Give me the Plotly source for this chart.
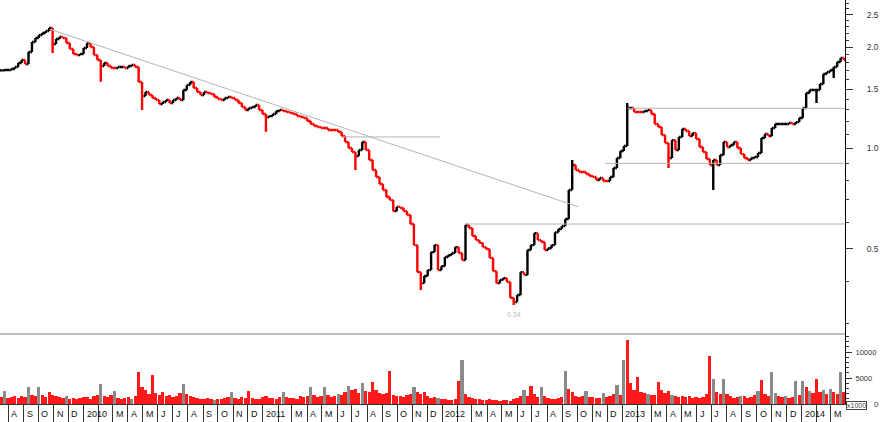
import math
import plotly.graph_objects as go
import pandas as pd

# ---------------- data ----------------
week_dates = pd.date_range("2009-07-17", periods=246, freq="7D")

close = [
    1.705, 1.709, 1.709, 1.721, 1.745, 1.794, 1.831, 1.782, 1.934, 2.072,
    2.130, 2.175, 2.204, 2.235, 2.281, 2.044, 2.115, 2.145, 2.130, 2.058,
    1.975, 1.908, 1.895, 1.908, 1.989, 2.058, 2.002, 1.895, 1.831, 1.757,
    1.794, 1.757, 1.733, 1.733, 1.745, 1.745, 1.733, 1.757, 1.769, 1.745,
    1.574, 1.430, 1.470, 1.439, 1.410, 1.391, 1.353, 1.372, 1.391, 1.362,
    1.391, 1.410, 1.391, 1.490, 1.542, 1.574, 1.511, 1.470, 1.439, 1.470,
    1.460, 1.449, 1.420, 1.400, 1.391, 1.410, 1.420, 1.410, 1.391, 1.362,
    1.325, 1.299, 1.316, 1.325, 1.344, 1.299, 1.263, 1.237, 1.245, 1.263,
    1.290, 1.299, 1.290, 1.281, 1.272, 1.263, 1.245, 1.237, 1.229, 1.204,
    1.179, 1.163, 1.155, 1.147, 1.147, 1.132, 1.132, 1.132, 1.116, 1.086,
    1.042, 1.000, 0.973, 0.946, 0.986, 1.042, 0.986, 0.921, 0.860, 0.819,
    0.781, 0.749, 0.714, 0.699, 0.648, 0.667, 0.662, 0.648, 0.631, 0.593,
    0.513, 0.426, 0.395, 0.415, 0.432, 0.489, 0.513, 0.432, 0.444, 0.473,
    0.479, 0.486, 0.506, 0.486, 0.463, 0.589, 0.577, 0.546, 0.531, 0.521,
    0.506, 0.499, 0.470, 0.429, 0.395, 0.404, 0.409, 0.398, 0.357, 0.347,
    0.364, 0.426, 0.418, 0.496, 0.513, 0.557, 0.531, 0.524, 0.496, 0.502,
    0.513, 0.560, 0.573, 0.585, 0.614, 0.749, 0.890, 0.860, 0.848, 0.848,
    0.836, 0.825, 0.819, 0.803, 0.814, 0.797, 0.797, 0.819, 0.872, 0.934,
    0.980, 1.014, 1.316, 1.316, 1.281, 1.281, 1.281, 1.290, 1.299, 1.263,
    1.179, 1.155, 1.094, 1.035, 0.934, 1.056, 0.986, 1.079, 1.140, 1.124,
    1.086, 1.108, 1.064, 1.007, 0.973, 0.927, 0.890, 0.921, 0.890, 0.953,
    1.042, 1.007, 1.021, 1.042, 1.000, 0.959, 0.934, 0.921, 0.934, 0.940,
    0.966, 1.071, 1.101, 1.086, 1.147, 1.179, 1.179, 1.179, 1.179, 1.187,
    1.179, 1.195, 1.229, 1.316, 1.460, 1.490, 1.490, 1.490, 1.553, 1.663,
    1.686, 1.709, 1.745, 1.806, 1.857, 1.831,
]

# notable wicks (week index -> price)
wick_low = {15: 1.920, 29: 1.577, 41: 1.299, 77: 1.119, 103: 0.860,
            122: 0.377, 149: 0.340, 194: 0.872, 207: 0.749, 237: 1.362,
            242: 1.618}
wick_high = {166: 0.921, 182: 1.362}

volume_k = [
    1400, 2500, 1200, 1300, 1500, 1100, 1600, 1400, 3300, 1800,
    1500, 3200, 1700, 1400, 2300, 1800, 1500, 1300, 1200, 1600,
    1000, 1200, 900, 1100, 1400, 1300, 1000, 1500, 1700, 3800,
    1600, 1400, 1800, 2500, 1200, 1000, 1100, 1300, 900, 1500,
    6100, 3200, 2600, 2000, 5600, 2100, 1800, 2400, 1500, 1700,
    1400, 1600, 2100, 3800, 1900, 1500, 1300, 1200, 1000, 900,
    1100, 1000, 800, 900, 1000, 1100, 1400, 2300, 1200, 1000,
    1300, 1100, 2500, 1200, 900, 1000, 1300, 1500, 1100, 1200,
    1000, 1400, 2300, 1300, 1100, 1200, 1000, 1500, 1300, 1600,
    3300, 1800, 1400, 1500, 3200, 1700, 1300, 1500, 2000, 1800,
    2400, 3500, 2600, 2800, 2200, 4000, 2500, 2300, 4300, 2600,
    2100, 1900, 2200, 6400, 1800, 1600, 1500, 1300, 1700, 2000,
    3300, 2400, 2000, 2300, 1500, 1200, 1400, 1100, 1000, 900,
    800, 700, 1000, 4500, 8500, 2000, 1400, 1200, 1000, 900,
    800, 700, 900, 700, 800, 600, 700, 800, 600, 900,
    1100, 1600, 2700, 1500, 3500, 2000, 1300, 3200, 1500, 1200,
    1000, 900, 1100, 1300, 6300, 2800, 2300, 1500, 1400, 1600,
    2500, 1300, 1400, 1200, 1100, 2200, 1300, 1500, 2000, 3600,
    1800, 8400, 12300, 4100, 2600, 5100, 2400, 2200, 1900, 1700,
    1800, 4300, 2600, 2200, 2500, 1800, 1500, 1300, 1600, 1400,
    1500, 1200, 1300, 1100, 1400, 2000, 9300, 4800, 2300, 1900,
    4800, 2000, 1500, 1200, 1300, 1500, 1600, 1200, 1400, 1800,
    2500, 4600, 2000, 1500, 6100, 2200, 1500, 1300, 1600, 1200,
    1400, 4500, 1700, 4500, 3200, 2500, 2200, 4800, 2300, 2600,
    2000, 2800, 2400, 1900, 6100, 2300,
]
# weeks whose volume bar shows grey in the reference (others red)
grey_weeks = [1, 8, 11, 19, 29, 33, 38, 53, 62, 67, 82, 90, 94, 98, 101, 105,
              120, 127, 134, 152, 157, 164, 170, 175, 179, 181, 188, 195, 207,
              210, 215, 220, 224, 225, 228, 231, 233, 235, 239, 241, 244]

# drawn trend / level lines (dates, prices)
trend_dates = ["2009-10-25", "2012-10-03"]
trend_prices = [2.261, 0.668]
level_lines = [
    ("2011-06-13", "2011-12-27", 1.079),
    ("2012-02-16", "2014-03-30", 0.593),
    ("2012-11-27", "2014-03-30", 0.900),
    ("2013-01-11", "2014-03-30", 1.314),
]
low_label_date, low_label_price, low_label_text = "2012-05-25", 0.318, "0.34"

price_ticks = [0.5, 1.0, 1.5, 2.0, 2.5]
price_ticktext = ["0.5", "1.0", "1.5", "2.0", "2.5"]
price_minor = [0.3, 0.4, 0.6, 0.7, 0.8, 0.9, 1.1, 1.2, 1.3, 1.4, 1.6, 1.7,
               1.8, 1.9, 2.1, 2.2, 2.3, 2.4, 2.6, 2.7]
vol_ticks = [0, 5000, 10000]
vol_ticktext = ["", "5000", "10000"]
vol_minor = [1000, 2000, 3000, 4000, 6000, 7000, 8000, 9000, 11000, 12000, 13000]

x_start, x_end = "2009-07-15", "2014-03-30"
month_starts = pd.date_range("2009-08-01", "2014-03-01", freq="MS")
initials = "JFMAMJJASOND"

# ---------------- derived ----------------
opens = [close[0]] + close[:-1]
high = [max(o, c) for o, c in zip(opens, close)]
low = [min(o, c) for o, c in zip(opens, close)]
for k, v in wick_low.items():
    low[k] = min(low[k], v)
for k, v in wick_high.items():
    high[k] = max(high[k], v)
grey_set = set(grey_weeks)
vol_colors = ["rgba(125,125,125,0.9)" if k in grey_set else "rgba(255,0,0,0.9)"
              for k in range(len(volume_k))]

FONT = "Liberation Sans, Arial, sans-serif"
fig = go.Figure()

for d0, d1, p in level_lines:
    fig.add_trace(go.Scatter(x=[d0, d1], y=[p, p], mode="lines",
                             line=dict(color="#b4b4b4", width=1),
                             xaxis="x", yaxis="y", hoverinfo="skip"))
fig.add_trace(go.Scatter(x=trend_dates, y=trend_prices, mode="lines",
                         line=dict(color="#b4b4b4", width=1),
                         xaxis="x", yaxis="y", hoverinfo="skip"))

fig.add_trace(go.Ohlc(x=week_dates, open=opens, high=high, low=low, close=close,
                      increasing=dict(line=dict(color="#000000", width=2.4)),
                      decreasing=dict(line=dict(color="#ff0000", width=2.4)),
                      tickwidth=0.5, xaxis="x", yaxis="y"))

fig.add_trace(go.Bar(x=week_dates, y=volume_k,
                     marker=dict(color=vol_colors, line=dict(width=0)),
                     width=7 * 86400000 * 0.95, xaxis="x2", yaxis="y2"))

annotations = []
for m in month_starts:
    if m.month == 2:
        continue
    txt = str(m.year) if m.month == 1 else initials[m.month - 1]
    annotations.append(dict(x=m, y=0, xref="x2", yref="paper", text=txt,
                            xanchor="left", yanchor="middle", xshift=1, yshift=-10,
                            showarrow=False, font=dict(family=FONT, size=9, color="#111")))
annotations.append(dict(x=1, y=0, xref="paper", yref="paper", text="0",
                        xanchor="left", yanchor="middle", xshift=27, yshift=0,
                        showarrow=False, font=dict(family=FONT, size=8, color="#333")))
annotations.append(dict(x=1, y=0, xref="paper", yref="paper", text="x1000",
                        xanchor="left", yanchor="middle", xshift=1, yshift=-1,
                        showarrow=False, bgcolor="white", bordercolor="#444",
                        borderwidth=1, borderpad=0,
                        font=dict(family=FONT, size=7, color="#444")))
annotations.append(dict(x=low_label_date, y=math.log10(low_label_price), xref="x", yref="y",
                        text=low_label_text, xanchor="center", yanchor="middle",
                        showarrow=False, font=dict(family=FONT, size=7, color="#c0c0c0")))

vol_top = 70 / 26 * 5000
split = 70 / 404

fig.update_layout(
    width=880, height=422,
    margin=dict(l=0, r=35, t=0, b=18, pad=0),
    paper_bgcolor="white", plot_bgcolor="white",
    showlegend=False, bargap=0,
    xaxis=dict(domain=[0, 1], anchor="y", matches="x2", type="date",
               showticklabels=False, showgrid=False, zeroline=False,
               showline=False, ticks="", rangeslider=dict(visible=False)),
    xaxis2=dict(domain=[0, 1], anchor="y2", type="date", range=[x_start, x_end],
                showgrid=False, zeroline=False, tickmode="array",
                tickvals=list(month_starts), ticks="outside", ticklen=17,
                tickcolor="#333", tickwidth=1, showticklabels=False,
                showline=True, linecolor="#333", linewidth=1),
    yaxis=dict(domain=[split, 1], anchor="x", type="log",
               range=[-0.5552, 0.4418], side="right",
               showgrid=False, zeroline=False, showline=True,
               linecolor="#000", linewidth=1,
               tickmode="array", tickvals=price_ticks, ticktext=price_ticktext,
               ticks="outside", ticklen=7, tickcolor="#333",
               ticklabelstandoff=12,
               tickfont=dict(family=FONT, size=8.5, color="#333"),
               minor=dict(tickmode="array", tickvals=price_minor, ticks="outside",
                          ticklen=3, tickcolor="#333", showgrid=False)),
    yaxis2=dict(domain=[0, split], anchor="x2", range=[0, vol_top], side="right",
                showgrid=False, zeroline=False, showline=True,
                linecolor="#000", linewidth=1,
                tickmode="array", tickvals=vol_ticks, ticktext=vol_ticktext,
                ticks="outside", ticklen=6, tickcolor="#333",
                ticklabelstandoff=2,
                tickfont=dict(family=FONT, size=7.5, color="#333"),
                minor=dict(tickmode="array", tickvals=vol_minor, ticks="outside",
                           ticklen=3, tickcolor="#333", showgrid=False)),
    shapes=[dict(type="line", xref="paper", yref="paper", x0=0, x1=1,
                 y0=split, y1=split, line=dict(color="#808080", width=1))],
    annotations=annotations,
)

fig.write_html("out.html", config={"displayModeBar": False},
               post_script="document.body.style.margin='0px';")
